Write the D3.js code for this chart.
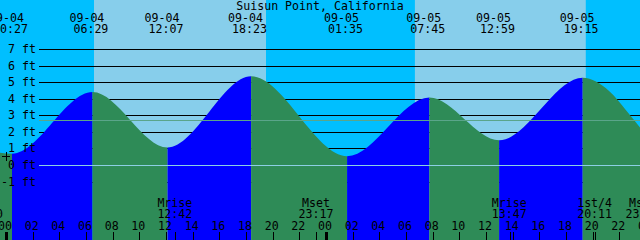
<!DOCTYPE html>
<html>
<head>
<meta charset="utf-8">
<script src="https://cdn.jsdelivr.net/npm/d3@7"></script>
<style>
  html, body { margin: 0; padding: 0; background: #fff; }
  svg { display: block; }
  text { font-family: "DejaVu Sans Mono", monospace; font-size: 11.6px; fill: #000; }
</style>
</head>
<body>
<div id="chart"></div>
<script>
let title = "Suisun Point, California";
let window_start = "2024-09-03 23:33";
let window_end = "2024-09-05 23:33";

let sunrise_times = ["2024-09-04 06:36", "2024-09-05 06:40"];
let sunset_times = ["2024-09-04 19:30", "2024-09-05 19:29"];

// high and low water, labelled along the top
let extreme_times = ["2024-09-04 00:27", "2024-09-04 06:29", "2024-09-04 12:07", "2024-09-04 18:23",
                     "2024-09-05 01:35", "2024-09-05 07:45", "2024-09-05 12:59", "2024-09-05 19:15"];
let extreme_levels = [0.71, 4.43, 1.08, 5.38, 0.56, 4.10, 1.52, 5.29];

let edge_times = ["2024-09-03 23:33", "2024-09-05 21:15", "2024-09-05 22:30", "2024-09-05 23:33"];
let edge_levels = [0.77, 4.48, 3.34, 2.29];

let moon_names = ["Mset", "Mrise", "Mset", "Mrise", "1st/4", "Mset"];
let moon_times = ["2024-09-03 22:30", "2024-09-04 12:42", "2024-09-04 23:17",
                  "2024-09-05 13:47", "2024-09-05 20:11", "2024-09-05 23:49"];

let level_ticks = [-1, 0, 1, 2, 3, 4, 5, 6, 7];
let datum_level = 0;
let mean_level = 2.71;
let mark_time = "2024-09-04 00:00";
let mark_level = 0.57;

const W = 640, H = 240;
const parse = d3.utcParse("%Y-%m-%d %H:%M");
const fmtDate = d3.utcFormat("%m-%d");
const fmtTime = d3.utcFormat("%H:%M");
const fmtHour = d3.utcFormat("%H");

let t0 = parse(window_start), t1 = parse(window_end);
let x = d3.scaleUtc().domain([t0, t1]).range([0, W]);
let y = d3.scaleLinear().domain([0, 7]).range([165.5, 49.5]);
let crisp = v => Math.floor(v) + 0.5;

let svg = d3.select("#chart").append("svg")
    .attr("width", W)
    .attr("height", H);

// night everywhere, day between sunrise and sunset
svg.append("rect").attr("x", 0).attr("y", 0).attr("width", W).attr("height", H).attr("fill", "#00bfff");
svg.selectAll("rect.day")
    .data(d3.range(sunrise_times.length))
    .enter().append("rect")
    .attr("class", "day")
    .attr("x", i => x(parse(sunrise_times[i])))
    .attr("y", 0)
    .attr("width", i => x(parse(sunset_times[i])) - x(parse(sunrise_times[i])))
    .attr("height", H)
    .attr("fill", "#87ceeb");

// level grid
svg.selectAll("line.grid")
    .data(level_ticks.filter(d => d != datum_level))
    .enter().append("line")
    .attr("class", "grid")
    .attr("x1", 39).attr("x2", W)
    .attr("y1", d => crisp(y(d))).attr("y2", d => crisp(y(d)))
    .attr("stroke", "#000")
    .attr("stroke-width", 1);

// tide curve
let points = edge_times.map((t, i) => ({t: parse(t), v: edge_levels[i]}))
    .concat(extreme_times.map((t, i) => ({t: parse(t), v: extreme_levels[i]})))
    .sort((a, b) => a.t - b.t);

let area = d3.area()
    .x(d => x(d.t))
    .y0(H)
    .y1(d => y(d.v))
    .curve(d3.curveMonotoneX);

svg.append("clipPath").attr("id", "water")
    .append("path").attr("d", area(points));

// flood (rising) in blue, ebb (falling) in green
let bounds = [t0].concat(extreme_times.map(parse)).concat([t1]);
let segs = [];
for (let i = 0; i < bounds.length - 1; i++) {
    let rising;
    if (i < extreme_levels.length) {
        let prev = i > 0 ? extreme_levels[i - 1] : extreme_levels[i + 1];
        rising = extreme_levels[i] > prev;
    } else {
        rising = extreme_levels[i - 1] < extreme_levels[i - 2];
    }
    segs.push({a: bounds[i], b: bounds[i + 1], rising: rising});
}
svg.append("g").attr("clip-path", "url(#water)")
    .selectAll("rect")
    .data(segs)
    .enter().append("rect")
    .attr("x", d => x(d.a))
    .attr("y", 0)
    .attr("width", d => x(d.b) - x(d.a))
    .attr("height", H)
    .attr("fill", d => d.rising ? "#0000ff" : "#2e8b57");

// datum and mean level lines
svg.append("line")
    .attr("x1", 39).attr("x2", W)
    .attr("y1", crisp(y(datum_level))).attr("y2", crisp(y(datum_level)))
    .attr("stroke", "#8ccfe4");
svg.append("line")
    .attr("x1", 39).attr("x2", W)
    .attr("y1", crisp(y(mean_level))).attr("y2", crisp(y(mean_level)))
    .attr("stroke", "#5aa58a");

// level labels
svg.selectAll("text.level")
    .data(level_ticks)
    .enter().append("text")
    .attr("class", "level")
    .attr("x", 36)
    .attr("y", d => crisp(y(d)) + 3.4)
    .attr("text-anchor", "end")
    .text(d => d + " ft");

// marker
let mx = Math.round(x(parse(mark_time))), my = Math.round(y(mark_level)) + 0.5;
svg.append("path")
    .attr("d", "M" + (mx - 4) + "," + my + "H" + (mx + 4) + "M" + (mx + 0.5) + "," + (my - 4.5) + "V" + (my + 4.5))
    .attr("stroke", "#000")
    .attr("fill", "none");

// title and extreme labels
svg.append("text")
    .attr("x", W / 2)
    .attr("y", 9.5)
    .attr("text-anchor", "middle")
    .text(title);

let ext = svg.selectAll("g.ext")
    .data(extreme_times.map(parse))
    .enter().append("g")
    .attr("class", "ext");
ext.append("text")
    .attr("x", d => x(d) - 23)
    .attr("y", 21.8)
    .text(d => fmtDate(d));
ext.append("text")
    .attr("x", d => x(d) - 19)
    .attr("y", 33.4)
    .text(d => fmtTime(d));

// hour axis along the bottom
let hours = x.ticks(d3.utcHour.every(2)).concat([d3.utcHour.offset(t1, 27)]);
hours = d3.utcHour.every(2).range(d3.utcHour.floor(t0), d3.utcHour.offset(t1, 2));
svg.selectAll("text.hour")
    .data(hours)
    .enter().append("text")
    .attr("class", "hour")
    .attr("x", d => x(d) - 1)
    .attr("y", 230)
    .attr("text-anchor", "middle")
    .text(d => fmtHour(d));
svg.selectAll("rect.tick")
    .data(hours)
    .enter().append("rect")
    .attr("class", "tick")
    .attr("x", d => d.getUTCHours() == 0 ? Math.round(x(d)) - 1 : Math.round(x(d)))
    .attr("y", 232)
    .attr("width", d => d.getUTCHours() == 0 ? 3 : 1)
    .attr("height", 8)
    .attr("fill", "#000");

// moon events
let moon = svg.selectAll("g.moon")
    .data(moon_times.map((t, i) => ({t: parse(t), name: moon_names[i]})))
    .enter().append("g")
    .attr("class", "moon");
moon.append("rect")
    .attr("x", d => Math.round(x(d.t)))
    .attr("y", 232)
    .attr("width", 1)
    .attr("height", 8)
    .attr("fill", "#000");
moon.append("text")
    .attr("x", d => x(d.t) - 0.5)
    .attr("y", 206.7)
    .attr("text-anchor", "middle")
    .text(d => d.name);
moon.append("text")
    .attr("x", d => x(d.t) - 0.5)
    .attr("y", 217.7)
    .attr("text-anchor", "middle")
    .text(d => fmtTime(d.t));
</script>
</body>
</html>
